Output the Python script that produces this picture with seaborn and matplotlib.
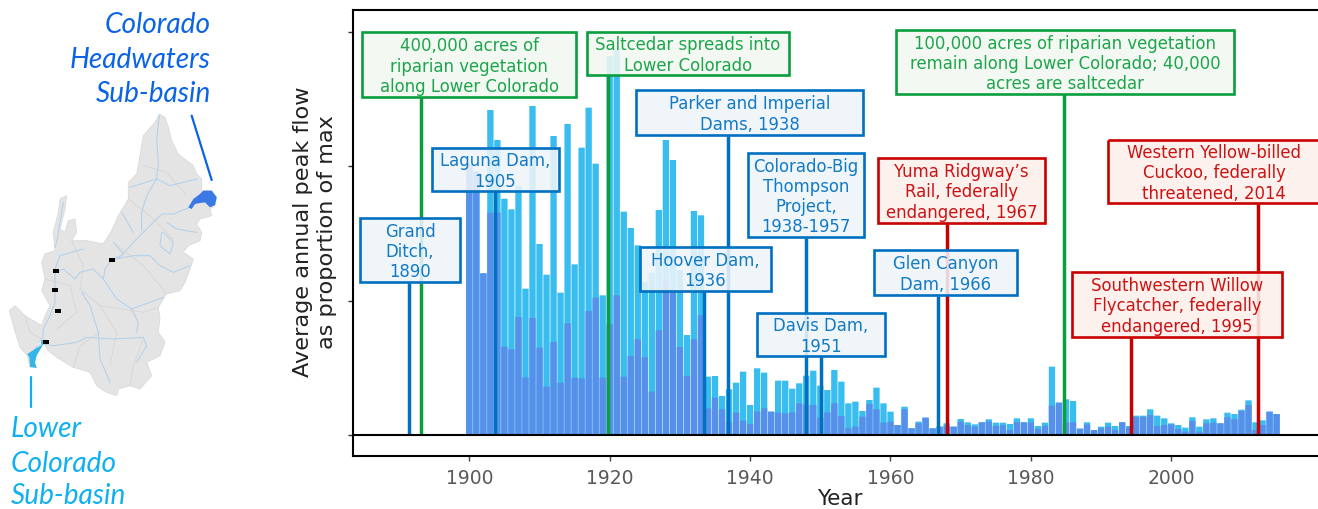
import numpy as np
import pandas as pd
import matplotlib
matplotlib.use('Agg')
import matplotlib.pyplot as plt
from matplotlib.patches import Polygon, Rectangle
import seaborn as sns

# flow heights, same arbitrary unit as the y ticks
years = list(range(1900, 2016))
lower_peak = [813, 790, 485, 975, 885, 709, 677, 747, 439, 987,
              573, 481, 897, 427, 933, 512, 862, 982, 814, 419,
              1137, 1157, 670, 621, 569, 459, 487, 675, 885, 825,
              495, 300, 672, 659, 175, 177, 117, 137, 157, 190,
              90, 200, 187, 70, 163, 163, 139, 155, 178, 193,
              148, 135, 195, 160, 95, 100, 72, 105, 142, 95,
              70, 30, 85, 20, 40, 52, 20, 25, 35, 25,
              48, 38, 32, 38, 47, 37, 37, 33, 50, 38,
              50, 27, 37, 205, 97, 107, 102, 19, 38, 15,
              25, 37, 27, 38, 27, 58, 58, 77, 58, 50,
              35, 30, 22, 53, 25, 47, 50, 35, 67, 63,
              76, 104, 38, 44, 70, 63]
headwaters_peak = [813, 790, 485, 667, 667, 265, 257, 354, 173, 351,
                   262, 145, 279, 157, 335, 172, 170, 372, 412, 172,
                   332, 419, 175, 237, 287, 233, 130, 314, 467, 437,
                   264, 177, 287, 359, 80, 112, 77, 39, 67, 43,
                   33, 70, 80, 70, 67, 65, 68, 95, 90, 90,
                   52, 68, 95, 57, 20, 25, 55, 93, 77, 37,
                   40, 30, 77, 20, 35, 52, 20, 25, 27, 25,
                   40, 30, 25, 38, 40, 27, 30, 15, 38, 38,
                   37, 18, 27, 88, 97, 37, 38, 19, 31, 15,
                   20, 25, 15, 38, 23, 54, 55, 60, 27, 30,
                   32, 18, 10, 42, 10, 35, 37, 35, 53, 47,
                   72, 90, 15, 30, 70, 63]
y_ticks = [0, 403, 806, 1210]
x_ticks = [1900, 1920, 1940, 1960, 1980, 2000]

BLUE = '#0070C0'
GREEN = '#0A9E3E'
RED = '#C80000'

# year of the line, colour, label, box in pixels (left, top, right, bottom)
events = [
    (1891.4, BLUE, 'Grand\nDitch,\n1890', (360, 219, 460, 283)),
    (1893.1, GREEN, '400,000 acres of\nriparian vegetation\nalong Lower Colorado', (362, 33, 576, 98)),
    (1903.7, BLUE, 'Laguna Dam,\n1905', (432, 149, 559, 192)),
    (1919.8, GREEN, 'Saltcedar spreads into\nLower Colorado', (587, 33, 789, 76)),
    (1933.4, BLUE, 'Hoover Dam,\n1936', (640, 248, 771, 292)),
    (1936.8, BLUE, 'Parker and Imperial\nDams, 1938', (636, 91, 863, 136)),
    (1947.9, BLUE, 'Colorado-Big\nThompson\nProject,\n1938-1957', (748, 154, 864, 238)),
    (1950.1, BLUE, 'Davis Dam,\n1951', (757, 314, 885, 357)),
    (1966.7, BLUE, 'Glen Canyon\nDam, 1966', (874, 251, 1017, 296)),
    (1968.0, RED, 'Yuma Ridgway\u2019s\nRail, federally\nendangered, 1967', (878, 159, 1045, 224)),
    (1984.7, GREEN, '100,000 acres of riparian vegetation\nremain along Lower Colorado; 40,000\nacres are saltcedar', (896, 31, 1234, 95)),
    (1994.3, RED, 'Southwestern Willow\nFlycatcher, federally\nendangered, 1995', (1072, 273, 1282, 338)),
    (2012.4, RED, 'Western Yellow-billed\nCuckoo, federally\nthreatened, 2014', (1108, 141, 1320, 204)),
]
box_fill = {BLUE: '#EEF4FA', GREEN: '#F2F8F1', RED: '#FDF0EC'}

# basin sketch, traced in zoomed pixels (3x, origin at 0,100)
basin_outline = [(478, 45), (495, 55), (505, 85), (515, 125), (535, 165), (560, 185), (580, 200), (590, 225),
                 (605, 240), (605, 275), (635, 275), (650, 295), (645, 320), (630, 330), (635, 350), (600, 360),
                 (590, 375), (605, 400), (600, 425), (565, 440), (550, 460), (580, 480), (570, 510), (555, 550),
                 (540, 575), (500, 585), (490, 600), (475, 625), (480, 660), (475, 700), (495, 730), (480, 770),
                 (440, 790), (455, 830), (420, 870), (390, 860), (355, 870), (350, 890), (320, 880), (290, 860),
                 (270, 820), (220, 805), (170, 775), (145, 755), (125, 720), (105, 750), (100, 790), (110, 805),
                 (90, 805), (82, 770), (60, 745), (40, 680), (28, 635), (45, 620), (75, 650), (125, 680),
                 (135, 650), (150, 620), (125, 575), (135, 540), (125, 490), (135, 465), (165, 455), (160, 400),
                 (175, 340), (180, 300), (200, 290), (195, 330), (180, 390), (195, 400), (205, 365), (225, 360),
                 (230, 400), (215, 425), (260, 425), (310, 435), (335, 395), (355, 350), (385, 300), (385, 250),
                 (410, 225), (420, 170), (430, 110), (465, 70)]
headwaters_shape = [(565, 325), (580, 300), (600, 285), (610, 275), (635, 275), (650, 295), (645, 318), (630, 325),
                    (615, 310), (600, 312), (585, 315), (575, 330)]
lower_shape = [(82, 765), (105, 750), (125, 738), (122, 725), (135, 722), (130, 735), (110, 770), (105, 790),
               (110, 807), (90, 803), (88, 775)]
rivers = [
    [(570, 325), (520, 345), (485, 345), (440, 390), (400, 430), (365, 470), (335, 482), (315, 510), (310, 540),
     (280, 510), (240, 520), (225, 540), (190, 510), (165, 520), (165, 570), (165, 610), (150, 650), (130, 690),
     (128, 730), (105, 750)],
    [(478, 50), (470, 120), (475, 190), (470, 240), (440, 290), (425, 340), (425, 395)],
    [(335, 482), (400, 470), (450, 470), (480, 500), (520, 520), (570, 500)],
    [(310, 540), (350, 600), (395, 630), (415, 670), (410, 700)],
    [(128, 735), (160, 740), (230, 730), (260, 715), (340, 720), (430, 715), (440, 740), (410, 790)],
    [(165, 445), (170, 430), (180, 370), (190, 310)],
    [(165, 510), (180, 470), (250, 450)],
    [(245, 580), (270, 620), (295, 700), (300, 780), (330, 850)],
    [(390, 265), (470, 240), (510, 260), (590, 240)],
    [(340, 430), (370, 465)],
    [(500, 370), (530, 390), (590, 400)],
    [(485, 400), (480, 440), (510, 465), (520, 430), (490, 400)],
    [(395, 630), (490, 595)],
    [(365, 340), (400, 400)],
]
basin_lines = [
    [(215, 425), (250, 500), (240, 570), (300, 620), (350, 700), (330, 800)],
    [(340, 430), (430, 500), (480, 560), (500, 585)],
    [(135, 540), (210, 560), (230, 640), (170, 690)],
    [(430, 200), (500, 220), (560, 290)],
    [(385, 300), (450, 350), (520, 420)],
    [(75, 650), (90, 700), (125, 720)],
    [(300, 620), (430, 640), (475, 625)],
    [(220, 805), (240, 740), (300, 700)],
    [(430, 720), (400, 800), (390, 860)],
]
dam_marks = [(167, 515), (164, 572), (174, 637), (138, 728), (337, 482)]


def to_px(points):
    return [(x / 3, 100 + y / 3) for x, y in points]


def px_to_flow(y_px):
    # 3 flow units per pixel, baseline at y=436
    return (436 - y_px) * 3


flow = pd.DataFrame({'year': years, 'lower': lower_peak, 'headwaters': headwaters_peak})

sns.set_style('white')
plt.rcParams['font.family'] = ['DejaVu Sans']

fig = plt.figure(figsize=(13.18, 5.10), dpi=100)
ax = fig.add_axes([353 / 1318, 1 - 457 / 510, (1318 - 353) / 1318, (457 - 11) / 510])

# linewidth=0, the white style puts white edges on bars otherwise
sns.barplot(data=flow, x='year', y='lower', color='#38BDEE', saturation=1, native_scale=True,
            width=0.9, linewidth=0, errorbar=None, ax=ax, zorder=2)
sns.barplot(data=flow, x='year', y='headwaters', color='#5690EA', saturation=1, native_scale=True,
            width=0.9, linewidth=0, errorbar=None, ax=ax, zorder=2.1)
for bar in ax.patches:
    bar.set_snap(False)

ax.axhline(0, color='black', lw=1.5, zorder=4)
for year, colour, label, box in events:
    ax.vlines(year, 0, px_to_flow(box[3]), color=colour, lw=2.5, zorder=3)

ax.set_xlim(1883.43, 2020.9)
ax.set_ylim(-63, 1275)
ax.set_xticks(x_ticks)
ax.set_yticks(y_ticks)
ax.set_yticklabels([])
ax.tick_params(axis='x', length=3.5, width=1, color='#444444', labelcolor='#595959', labelsize=13.5, pad=5, bottom=True)
ax.tick_params(axis='y', length=3.5, width=1, color='#333333', left=True)
ax.set_xlabel('')
ax.set_ylabel('')
ax.spines['right'].set_visible(False)
for side in ['left', 'top', 'bottom']:
    ax.spines[side].set_color('black')
    ax.spines[side].set_linewidth(1.5)

# everything in plain pixels on top: label boxes and the map
over = fig.add_axes([0, 0, 1, 1], facecolor='none')
over.set_xlim(0, 1318)
over.set_ylim(510, 0)
over.axis('off')

for year, colour, label, box in events:
    left, top, right, bottom = box
    over.add_patch(Rectangle((left, top), right - left, bottom - top, facecolor=box_fill[colour], alpha=0.88,
                             edgecolor='none', zorder=5))
    over.add_patch(Rectangle((left, top), right - left, bottom - top, facecolor='none', edgecolor=colour,
                             lw=1.9, zorder=6, joinstyle='miter'))
    over.text((left + right) / 2, (top + bottom) / 2 + 1, label, color=colour, fontsize=11.9, ha='center', va='center',
              multialignment='center', linespacing=1.16, zorder=7, alpha=0.92)

over.text(840, 499, 'Year', fontsize=15.5, ha='center', va='center', color='#222222')
over.text(315, 232, 'Average annual peak flow\nas proportion of max', rotation=90, fontsize=16.1, ha='center',
          va='center', multialignment='center', linespacing=1.25, color='#222222')

over.add_patch(Polygon(to_px(basin_outline), closed=True, facecolor='#E4E4E4', edgecolor='#DADADA', lw=0.6, zorder=1))
for line in basin_lines:
    pts = np.array(to_px(line))
    over.plot(pts[:, 0], pts[:, 1], color='#D6D6D6', lw=0.6, zorder=1.1)
for line in rivers:
    pts = np.array(to_px(line))
    over.plot(pts[:, 0], pts[:, 1], color='#AFCFEC', lw=0.7, zorder=1.2)
over.add_patch(Polygon(to_px(headwaters_shape), closed=True, facecolor='#3A78E6', edgecolor='none', zorder=2))
over.add_patch(Polygon(to_px(lower_shape), closed=True, facecolor='#35B5E8', edgecolor='none', zorder=2))
for x, y in to_px(dam_marks):
    over.add_patch(Rectangle((x - 3, y - 2), 6, 4, facecolor='black', edgecolor='none', zorder=3))

pts = np.array(to_px([(575, 50), (635, 243)]))
over.plot(pts[:, 0], pts[:, 1], color='#0B63E5', lw=1.6)
pts = np.array(to_px([(93, 833), (93, 925)]))
over.plot(pts[:, 0], pts[:, 1], color='#10B0F0', lw=1.6)

for text, y in zip(['Colorado', 'Headwaters', 'Sub-basin'], [25, 60, 94]):
    over.text(211, y, text, family='Lato', style='italic', fontsize=20.2, color='#0B63E5', ha='right', va='center')
for text, y in zip(['Lower', 'Colorado', 'Sub-basin'], [429, 464, 496]):
    over.text(11, y, text, family='Lato', style='italic', fontsize=20.2, color='#10B0F0', ha='left', va='center')

fig.savefig('out.png', dpi=100)
